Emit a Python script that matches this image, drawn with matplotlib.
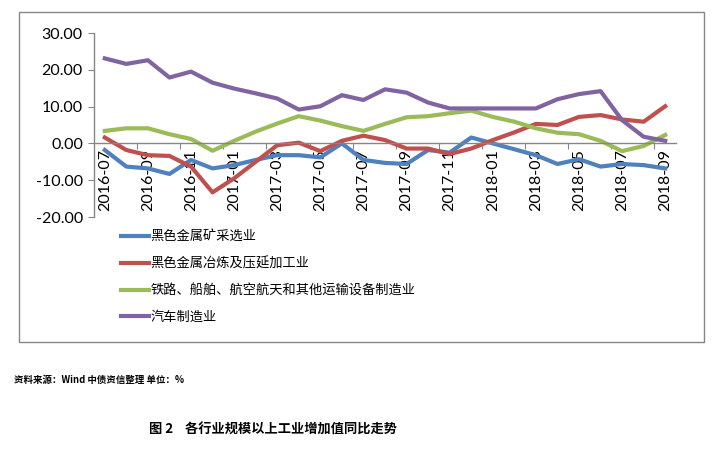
import matplotlib.pyplot as plt
from matplotlib.patches import Rectangle

months = ['2016-07', '2016-08', '2016-09', '2016-10', '2016-11', '2016-12',
          '2017-01', '2017-02', '2017-03', '2017-04', '2017-05', '2017-06',
          '2017-07', '2017-08', '2017-09', '2017-10', '2017-11', '2017-12',
          '2018-01', '2018-02', '2018-03', '2018-04', '2018-05', '2018-06',
          '2018-07', '2018-08', '2018-09']

mining = [-1.8, -6.3, -6.8, -8.3, -4.5, -6.8, -5.9, -4.5, -3.2, -3.2, -3.8, 0.0, -4.5, -5.3,
          -5.6, -1.8, -2.5, 1.6, 0.0, -1.6, -3.2, -5.6, -4.3, -6.3, -5.6, -5.9, -6.8]
smelting = [1.6, -1.8, -3.2, -3.4, -6.3, -13.3, -9.5, -5.0, -0.5, 0.2, -2.1, 0.7, 2.1, 0.9,
            -1.4, -1.4, -2.9, -1.4, 0.9, 3.0, 5.3, 5.0, 7.2, 7.7, 6.5, 5.9, 10.1]
transport = [3.4, 4.1, 4.1, 2.5, 1.2, -2.0, 0.7, 3.2, 5.4, 7.4, 6.2, 4.7, 3.4, 5.3,
             7.1, 7.4, 8.2, 8.9, 7.2, 5.9, 4.1, 2.9, 2.5, 0.7, -2.1, -0.7, 2.3]
auto = [23.1, 21.6, 22.6, 17.9, 19.5, 16.5, 14.9, 13.6, 12.2, 9.2, 10.1, 13.1, 11.8, 14.7,
        13.8, 11.1, 9.5, 9.5, 9.5, 9.5, 9.5, 12.0, 13.4, 14.2, 6.3, 1.8, 0.7]

names = ['黑色金属矿采选业', '黑色金属冶炼及压延加工业',
         '铁路、船舶、航空航天和其他运输设备制造业', '汽车制造业']
colors = ['#4F81BD', '#C0504D', '#9BBB59', '#8064A2']

plt.rcParams['font.family'] = ['Lato', 'Noto Sans CJK SC', 'DejaVu Sans']

W, H = 719, 451
fig = plt.figure(figsize=(W / 100, H / 100), dpi=100)
ax = fig.add_axes([94 / W, 1 - 217 / H, (676 - 94) / W, (217 - 33) / H])

x = list(range(len(months)))
for vals, name, c in zip([mining, smelting, transport, auto], names, colors):
    ax.plot(x, vals, color=c, lw=3, label=name, solid_joinstyle='round')

ax.set_xlim(-0.5, len(months) - 0.5)
ax.set_ylim(-20, 30)
ax.set_yticks(range(-20, 31, 10))
ax.set_yticklabels([f'{v:.2f}' for v in range(-20, 31, 10)], fontsize=11.5)

ax.spines['top'].set_visible(False)
ax.spines['right'].set_visible(False)
ax.spines['bottom'].set_position(('data', 0))
for s in ['left', 'bottom']:
    ax.spines[s].set_color('#868686')
    ax.spines[s].set_linewidth(1)

ax.set_xticks([k + 1.5 for k in range(0, 25, 2)])
ax.set_xticklabels([])
ax.set_xticks(x[::2], minor=True)
ax.set_xticklabels(months[::2], minor=True, rotation=90, fontsize=11.5)
ax.tick_params(axis='x', which='major', direction='out', length=4, color='#868686')
ax.tick_params(axis='x', which='minor', length=0, pad=4)
ax.tick_params(axis='y', direction='out', length=4, color='#868686', pad=4)

leg = fig.legend(loc='upper left', bbox_to_anchor=(121 / W, 1 - 231 / H),
                 frameon=False, handlelength=2.1, handletextpad=0.15,
                 labelspacing=1.02, borderpad=0, borderaxespad=0,
                 prop={'family': 'Noto Sans CJK SC', 'size': 9.5})

fig.patches.append(Rectangle((19 / W, 1 - 342 / H), (704 - 19) / W, (342 - 12) / H,
                             transform=fig.transFigure, fill=False,
                             edgecolor='#868686', lw=1))

fig.text(14 / W, 1 - 380 / H, '资料来源：Wind 中债资信整理 单位：%',
         fontsize=6.8, fontweight='bold', va='center', ha='left',
         family=['Noto Sans CJK SC'])
fig.text(273 / W, 1 - 430 / H, '图 2    各行业规模以上工业增加值同比走势',
         fontsize=9.5, fontweight='bold', va='center', ha='center',
         family=['Noto Sans CJK SC'])

fig.savefig('out.png', dpi=100)
